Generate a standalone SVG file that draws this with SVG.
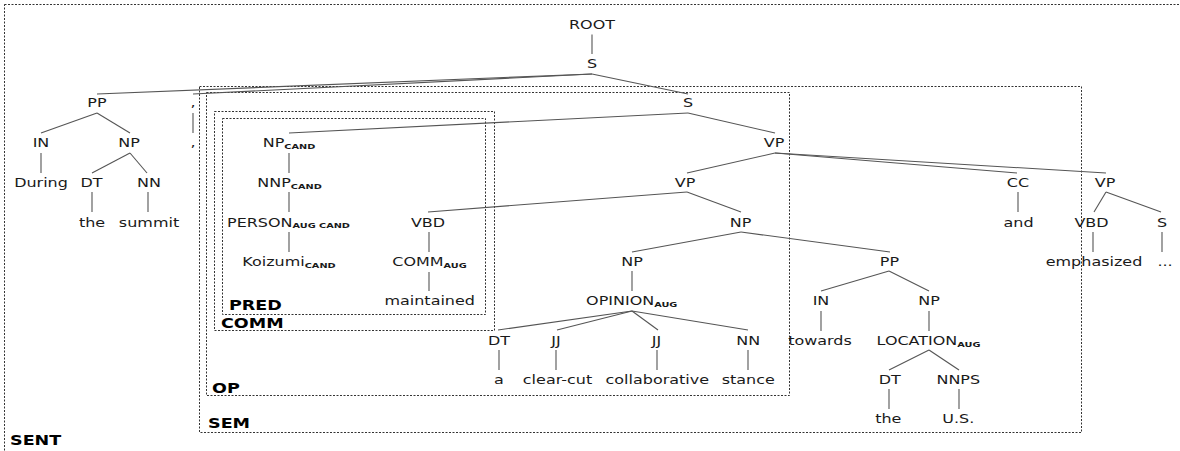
<svg xmlns="http://www.w3.org/2000/svg" width="1180" height="451" viewBox="0 0 1180 451">
<style>
.t{font-family:"DejaVu Sans",sans-serif;font-size:12.3px;fill:#1a1a1a;text-anchor:middle}
.s{font-size:7.5px;font-weight:bold}
.b{font-family:"DejaVu Sans",sans-serif;font-weight:bold;font-size:13.5px;fill:#000}
.e{stroke:#555;stroke-width:1.1;fill:none}
.box{fill:none;stroke:#333;stroke-width:1;stroke-dasharray:2 1.5}
</style>
<rect x="0" y="0" width="1180" height="451" fill="#fff"/>
<g id="boxes">
<rect class="box" x="4.5" y="4.5" width="1200" height="500"/>
<rect class="box" x="199.5" y="86.5" width="882" height="346"/>
<rect class="box" x="206.5" y="92.5" width="583" height="303"/>
<rect class="box" x="214.5" y="111.5" width="280" height="219"/>
<rect class="box" x="222.5" y="118.5" width="263" height="196"/>
<text class="b" transform="translate(10,445) scale(1.3,1)">SENT</text>
<text class="b" transform="translate(208,428) scale(1.3,1)">SEM</text>
<text class="b" transform="translate(212,392.5) scale(1.3,1)">OP</text>
<text class="b" transform="translate(221,328) scale(1.3,1)">COMM</text>
<text class="b" transform="translate(229,310) scale(1.3,1)">PRED</text>
</g>
<g id="connectors">
<line class="e" x1="592" y1="34.5" x2="592" y2="54"/>
<line class="e" x1="592" y1="74" x2="97" y2="94"/>
<line class="e" x1="592" y1="74" x2="193" y2="94"/>
<line class="e" x1="592" y1="74" x2="688" y2="94"/>
<line class="e" x1="97" y1="113" x2="41" y2="133"/>
<line class="e" x1="97" y1="113" x2="130" y2="133"/>
<line class="e" x1="193" y1="113" x2="193" y2="133"/>
<line class="e" x1="688" y1="113" x2="289" y2="133"/>
<line class="e" x1="688" y1="113" x2="775" y2="133"/>
<line class="e" x1="41" y1="153" x2="41" y2="173"/>
<line class="e" x1="130" y1="153" x2="92" y2="173"/>
<line class="e" x1="130" y1="153" x2="147" y2="173"/>
<line class="e" x1="289" y1="153" x2="289" y2="173"/>
<line class="e" x1="775" y1="153" x2="687" y2="173"/>
<line class="e" x1="775" y1="153" x2="1017" y2="173"/>
<line class="e" x1="775" y1="153" x2="1106" y2="173"/>
<line class="e" x1="92" y1="192" x2="92" y2="212"/>
<line class="e" x1="148" y1="192" x2="148" y2="212"/>
<line class="e" x1="289" y1="192" x2="289" y2="212"/>
<line class="e" x1="687" y1="192" x2="428" y2="212"/>
<line class="e" x1="687" y1="192" x2="741" y2="212"/>
<line class="e" x1="1018" y1="192" x2="1018" y2="212"/>
<line class="e" x1="1106" y1="192" x2="1094" y2="212"/>
<line class="e" x1="1106" y1="192" x2="1161" y2="212"/>
<line class="e" x1="289" y1="232" x2="289" y2="252"/>
<line class="e" x1="429" y1="232" x2="429" y2="252"/>
<line class="e" x1="741" y1="232" x2="632" y2="252"/>
<line class="e" x1="741" y1="232" x2="890" y2="252"/>
<line class="e" x1="1093" y1="232" x2="1093" y2="252"/>
<line class="e" x1="1162" y1="232" x2="1162" y2="252"/>
<line class="e" x1="429" y1="272" x2="429" y2="291"/>
<line class="e" x1="632" y1="271" x2="632" y2="291"/>
<line class="e" x1="889" y1="271" x2="821" y2="291"/>
<line class="e" x1="889" y1="271" x2="929" y2="291"/>
<line class="e" x1="632" y1="311" x2="498" y2="330"/>
<line class="e" x1="632" y1="311" x2="557" y2="330"/>
<line class="e" x1="632" y1="311" x2="658" y2="330"/>
<line class="e" x1="632" y1="311" x2="748" y2="330"/>
<line class="e" x1="821" y1="311" x2="821" y2="331"/>
<line class="e" x1="929" y1="311" x2="929" y2="331"/>
<line class="e" x1="499" y1="350" x2="499" y2="370"/>
<line class="e" x1="556" y1="350" x2="556" y2="370"/>
<line class="e" x1="657" y1="350" x2="657" y2="370"/>
<line class="e" x1="748" y1="350" x2="748" y2="370"/>
<line class="e" x1="929" y1="350" x2="889" y2="370"/>
<line class="e" x1="929" y1="350" x2="959" y2="370"/>
<line class="e" x1="889" y1="389" x2="889" y2="409"/>
<line class="e" x1="959" y1="389" x2="959" y2="409"/>
</g>
<g id="n_root"><text class="t" transform="translate(592,29) scale(1.3,1)">ROOT</text></g>
<g id="n_s1"><text class="t" transform="translate(592,68) scale(1.3,1)">S</text></g>
<g id="n_pp1"><text class="t" transform="translate(97,107) scale(1.3,1)">PP</text></g>
<g id="n_comma_tag"><text class="t" transform="translate(193,107) scale(1.3,1)">,</text></g>
<g id="n_s2"><text class="t" transform="translate(688,107) scale(1.3,1)">S</text></g>
<g id="n_in1"><text class="t" transform="translate(41,147) scale(1.3,1)">IN</text></g>
<g id="n_np1"><text class="t" transform="translate(129,147) scale(1.3,1)">NP</text></g>
<g id="n_comma_w"><text class="t" transform="translate(193,147) scale(1.3,1)">,</text></g>
<g id="n_npcand"><text class="t" transform="translate(289,147) scale(1.3,1)">NP<tspan class="s" dy="1.5">CAND</tspan></text></g>
<g id="n_vp1"><text class="t" transform="translate(774,147) scale(1.3,1)">VP</text></g>
<g id="n_during"><text class="t" transform="translate(41,187) scale(1.3,1)">During</text></g>
<g id="n_dt1"><text class="t" transform="translate(91.5,187) scale(1.3,1)">DT</text></g>
<g id="n_nn1"><text class="t" transform="translate(149,187) scale(1.3,1)">NN</text></g>
<g id="n_nnp"><text class="t" transform="translate(289.5,187) scale(1.3,1)">NNP<tspan class="s" dy="1.5">CAND</tspan></text></g>
<g id="n_vp2"><text class="t" transform="translate(685,187) scale(1.3,1)">VP</text></g>
<g id="n_cc"><text class="t" transform="translate(1018,187) scale(1.3,1)">CC</text></g>
<g id="n_vp3"><text class="t" transform="translate(1105,187) scale(1.3,1)">VP</text></g>
<g id="n_the1"><text class="t" transform="translate(92,226.5) scale(1.3,1)">the</text></g>
<g id="n_summit"><text class="t" transform="translate(149,226.5) scale(1.3,1)">summit</text></g>
<g id="n_person"><text class="t" transform="translate(288.5,226.5) scale(1.3,1)">PERSON<tspan class="s" dy="1.5">AUG CAND</tspan></text></g>
<g id="n_vbd1"><text class="t" transform="translate(428,226.5) scale(1.3,1)">VBD</text></g>
<g id="n_np2"><text class="t" transform="translate(740.5,226.5) scale(1.3,1)">NP</text></g>
<g id="n_and"><text class="t" transform="translate(1018.5,226.5) scale(1.3,1)">and</text></g>
<g id="n_vbd2"><text class="t" transform="translate(1091.5,226.5) scale(1.3,1)">VBD</text></g>
<g id="n_s3"><text class="t" transform="translate(1162,226.5) scale(1.3,1)">S</text></g>
<g id="n_koizumi"><text class="t" transform="translate(289,266) scale(1.3,1)">Koizumi<tspan class="s" dy="1.5">CAND</tspan></text></g>
<g id="n_comm"><text class="t" transform="translate(429.5,266) scale(1.3,1)">COMM<tspan class="s" dy="1.5">AUG</tspan></text></g>
<g id="n_np3"><text class="t" transform="translate(632,266) scale(1.3,1)">NP</text></g>
<g id="n_pp2"><text class="t" transform="translate(889.5,266) scale(1.3,1)">PP</text></g>
<g id="n_emph"><text class="t" transform="translate(1094,266) scale(1.3,1)">emphasized</text></g>
<g id="n_ellipsis"><text class="t" transform="translate(1165,266) scale(1.3,1)">...</text></g>
<g id="n_maint"><text class="t" transform="translate(429.7,305) scale(1.3,1)">maintained</text></g>
<g id="n_opinion"><text class="t" transform="translate(631.7,305) scale(1.3,1)">OPINION<tspan class="s" dy="1.5">AUG</tspan></text></g>
<g id="n_in2"><text class="t" transform="translate(821,305) scale(1.3,1)">IN</text></g>
<g id="n_np4"><text class="t" transform="translate(929,305) scale(1.3,1)">NP</text></g>
<g id="n_dt2"><text class="t" transform="translate(499,345) scale(1.3,1)">DT</text></g>
<g id="n_jj1"><text class="t" transform="translate(556,345) scale(1.3,1)">JJ</text></g>
<g id="n_jj2"><text class="t" transform="translate(656.5,345) scale(1.3,1)">JJ</text></g>
<g id="n_nn2"><text class="t" transform="translate(748.3,345) scale(1.3,1)">NN</text></g>
<g id="n_towards"><text class="t" transform="translate(820,345) scale(1.3,1)">towards</text></g>
<g id="n_location"><text class="t" transform="translate(928.5,345) scale(1.3,1)">LOCATION<tspan class="s" dy="1.5">AUG</tspan></text></g>
<g id="n_a"><text class="t" transform="translate(499,384) scale(1.3,1)">a</text></g>
<g id="n_clearcut"><text class="t" transform="translate(557.5,384) scale(1.3,1)">clear-cut</text></g>
<g id="n_collab"><text class="t" transform="translate(657.3,384) scale(1.3,1)">collaborative</text></g>
<g id="n_stance"><text class="t" transform="translate(748.3,384) scale(1.3,1)">stance</text></g>
<g id="n_dt3"><text class="t" transform="translate(889.7,384) scale(1.3,1)">DT</text></g>
<g id="n_nnps"><text class="t" transform="translate(958.3,384) scale(1.3,1)">NNPS</text></g>
<g id="n_the2"><text class="t" transform="translate(888.3,423) scale(1.3,1)">the</text></g>
<g id="n_us"><text class="t" transform="translate(958.3,423) scale(1.3,1)">U.S.</text></g>
</svg>
